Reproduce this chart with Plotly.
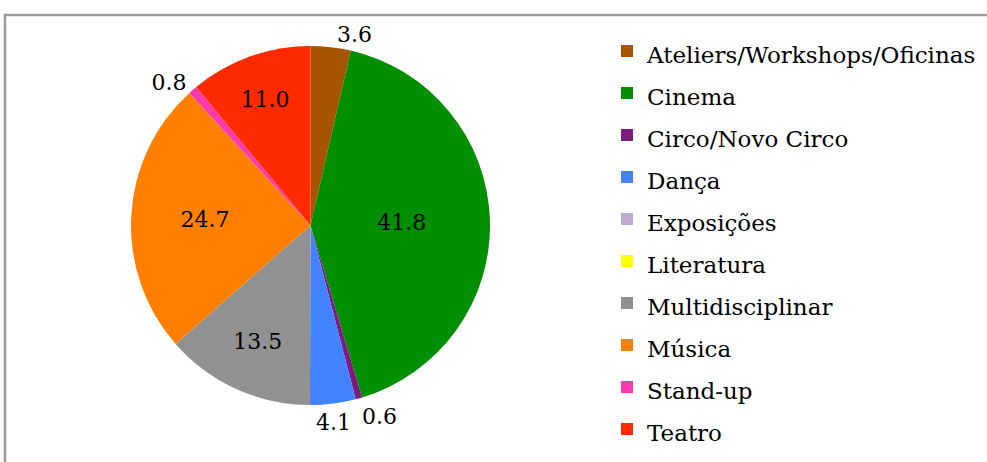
import math
import plotly.graph_objects as go

W, H = 987, 462

categorias = ["Ateliers/Workshops/Oficinas", "Cinema", "Circo/Novo Circo", "Dança",
              "Exposições", "Literatura", "Multidisciplinar", "Música", "Stand-up", "Teatro"]
valores = [3.6, 41.8, 0.6, 4.1, 0.0, 0.0, 13.5, 24.7, 0.8, 11.0]
cores = ["#A65400", "#008F00", "#7B1C7E", "#4282FF", "#C0A9D2",
         "#FFFF00", "#919191", "#FF8000", "#FF3AB0", "#FF2A00"]

FONTE = "DejaVu Serif"
TAM = 22
TAM_LEG = 23

# geometria da pizza (pixels)
CX, CY, R = 310.5, 225.5, 179.5

# rotulos: grandes dentro, 3.6 e 0.8 fora pelo plotly; 4.1 e 0.6 como anotacoes
# (o plotly empurra um deles para baixo com linha de chamada)
anotar = ["Circo/Novo Circo", "Dança"]
textos = []
posicoes = []
for c, v in zip(categorias, valores):
    if v == 0 or c in anotar:
        textos.append("")
        posicoes.append("none")
    else:
        textos.append(f"{v:.1f}")
        posicoes.append("inside" if v >= 10 else "outside")

total = sum(valores)
anotacoes = []
acum = 0.0
for c, v in zip(categorias, valores):
    meio = (acum + v / 2) / total * 2 * math.pi
    acum += v
    if c not in anotar:
        continue
    s, co = math.sin(meio), math.cos(meio)
    px = CX + (R + 4) * s
    py = CY - (R + 4) * co
    xa = "left" if s > 0.25 else ("right" if s < -0.25 else "center")
    ya = "bottom" if co > 0.25 else ("top" if co < -0.25 else "middle")
    anotacoes.append(dict(x=px / W, y=1 - py / H, xref="paper", yref="paper",
                          text=f"{v:.1f}", showarrow=False, xanchor=xa, yanchor=ya,
                          font=dict(family=FONTE, size=TAM, color="black")))

fig = go.Figure(go.Pie(
    labels=[f'<span style="font-size:{TAM_LEG}px">{c}</span>' for c in categorias],
    values=valores,
    text=textos,
    textinfo="text",
    textposition=posicoes,
    marker=dict(colors=cores, line=dict(width=0)),
    sort=False,
    direction="clockwise",
    rotation=0,
    insidetextorientation="horizontal",
    textfont=dict(family=FONTE, size=TAM, color="black"),
    hoverinfo="label+value",
    domain=dict(x=[(CX - R) / W, (CX + R) / W], y=[1 - (CY + R) / H, 1 - (CY - R) / H]),
))

fig.update_layout(
    width=W, height=H,
    margin=dict(l=0, r=0, t=0, b=0),
    paper_bgcolor="white",
    font=dict(family=FONTE, size=TAM, color="black"),
    showlegend=True,
    legend=dict(x=607 / W, y=1 - 25 / H, xanchor="left", yanchor="top",
                font=dict(family=FONTE, size=30, color="black"),
                itemwidth=30, traceorder="normal"),
    annotations=anotacoes,
    shapes=[dict(type="rect", xref="paper", yref="paper",
                 x0=5 / W, x1=1.1, y0=-0.1, y1=1 - 15 / H,
                 line=dict(color="#9a9a9a", width=2.5))],
)

fig.write_html("out.html", config={"displayModeBar": False},
               post_script="document.body.style.margin='0';")
